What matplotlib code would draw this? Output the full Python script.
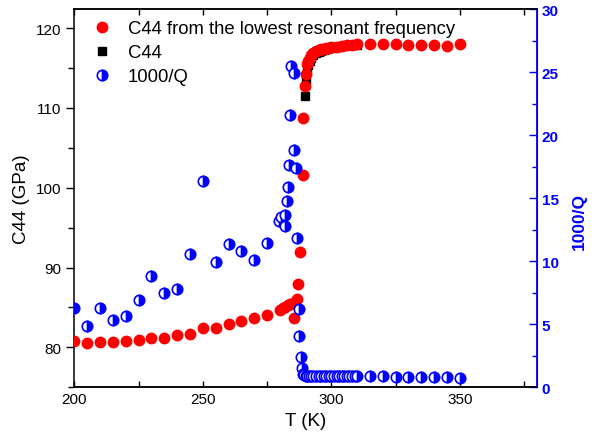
import matplotlib
matplotlib.use('Agg')
import matplotlib.pyplot as plt
from matplotlib.ticker import MultipleLocator

plt.rcParams['font.family'] = ['Liberation Sans', 'DejaVu Sans']

# C44 from the lowest resonant frequency (red)
red_T = [200, 205, 210, 215, 220, 225, 230, 235, 240, 245, 250, 255, 260, 265,
         270, 275, 280, 281, 282, 283, 284, 285, 285.6, 286.5, 287.2, 287.9,
         288.9, 289.1, 289.8, 290.2, 290.6, 291, 291.5, 292, 293, 294, 295,
         296, 297, 298, 299, 300, 302, 304, 306, 308, 310,
         315, 320, 325, 330, 335, 340, 345, 350]
red_C44 = [80.8, 80.5, 80.67, 80.7, 80.8, 80.96, 81.13, 81.2, 81.5, 81.67, 82.4,
           82.47, 82.9, 83.3, 83.7, 84.05, 84.7, 84.95, 85.1, 85.25, 85.4, 85.6,
           83.7, 86.1, 87.9, 91.9, 101.6, 108.8, 112.8, 114.3, 115.5, 115.9,
           116.3, 116.6, 116.9, 117.1, 117.25, 117.35, 117.45, 117.5, 117.55,
           117.6, 117.7, 117.8, 117.85, 117.95, 118.0,
           118.02, 118.02, 118.0, 117.95, 117.93, 117.9, 117.8, 118.0]

# C44 (black squares)
black_T = [289.8, 290.2, 290.6, 291, 291.5, 292, 293, 294, 295, 296, 297, 298,
           299, 300, 302, 304, 306, 308, 310]
black_C44 = [111.5, 113.5, 114.8, 115.4, 115.9, 116.2, 116.6, 116.9, 117.05,
             117.2, 117.3, 117.4, 117.5, 117.55, 117.65, 117.75, 117.85, 117.9,
             117.95]

# 1000/Q (blue, right axis)
blue_T = [200, 205, 210, 215, 220, 225, 230, 235, 240, 245, 250, 255, 260, 265,
          270, 275, 279.8, 280.5, 281.8, 282.0, 282.7, 283.3, 283.7, 284.0,
          284.4, 285.6, 285.6, 286.3, 286.5, 287.3, 287.6, 288.3, 288.4, 288.9,
          289.5, 290, 290.7, 291.4, 292, 293, 294, 295, 296, 297, 298, 299, 300,
          301, 302, 303, 304, 305, 306, 307, 308, 309, 310,
          315, 320, 325, 330, 335, 340, 345, 350]
blue_Q = [6.3, 4.84, 6.26, 5.34, 5.68, 6.92, 8.83, 7.45, 7.77, 10.57, 16.36,
          9.96, 11.34, 10.81, 10.09, 11.44, 13.2, 13.48, 12.8, 13.7, 14.75,
          15.9, 17.6, 21.6, 25.5, 24.9, 18.8, 17.4, 11.8, 6.2, 4.04, 2.38, 1.5,
          1.05, 0.95, 0.92, 0.9, 0.9, 0.88, 0.88, 0.88, 0.87, 0.87, 0.87, 0.87,
          0.86, 0.86, 0.86, 0.86, 0.86, 0.86, 0.86, 0.86, 0.86, 0.86, 0.86, 0.86,
          0.87, 0.87, 0.84, 0.84, 0.8, 0.8, 0.8, 0.74]

fig = plt.figure(figsize=(5.97, 4.35), dpi=100)
ax = fig.add_axes([0.1245, 0.1074, 0.775, 0.8696])

l_black, = ax.plot(black_T, black_C44, 's', color='black', ms=5.5, ls='none',
                   label='C44', zorder=2)
l_red, = ax.plot(red_T, red_C44, 'o', color='red', mec='red', ms=7.5, ls='none',
                 label='C44 from the lowest resonant frequency', zorder=3)

ax.set_xlim(200, 380)
ax.set_ylim(75, 122.4)
ax.xaxis.set_major_locator(MultipleLocator(50))
ax.xaxis.set_minor_locator(MultipleLocator(25))
ax.yaxis.set_major_locator(MultipleLocator(10))
ax.yaxis.set_minor_locator(MultipleLocator(5))
ax.tick_params(axis='x', which='both', direction='in', top=True, length=4,
               width=1, labelsize=11)
ax.tick_params(axis='y', which='major', direction='out', length=6, width=1,
               labelsize=11, right=False)
ax.tick_params(axis='y', which='minor', direction='out', length=4, width=1,
               right=False)
ax.set_xlabel('T (K)', fontsize=13.5)
ax.set_ylabel('C44 (GPa)', fontsize=13.5)
for s in ['left', 'bottom', 'top']:
    ax.spines[s].set_linewidth(1.1)

ax2 = ax.twinx()
l_blue, = ax2.plot(blue_T, blue_Q, 'o', ms=7.5, ls='none', fillstyle='right',
                   mfc='blue', mfcalt='white', mec='blue', mew=1.2,
                   label='1000/Q')
ax2.set_ylim(0, 30)
ax2.yaxis.set_major_locator(MultipleLocator(5))
ax2.yaxis.set_minor_locator(MultipleLocator(2.5))
ax2.tick_params(axis='y', which='major', direction='in', length=6, width=1,
                colors='blue', labelsize=11)
ax2.tick_params(axis='y', which='minor', direction='in', length=3.5, width=1,
                colors='blue')
for lab in ax2.get_yticklabels():
    lab.set_fontweight('bold')
ax2.set_ylabel('1000/Q', color='blue', fontweight='bold', fontsize=12.5)
ax2.yaxis.set_label_coords(1.075, 0.44)
ax2.spines['right'].set_color('blue')
ax2.spines['right'].set_linewidth(1.3)
ax2.spines['left'].set_visible(False)
ax2.spines['top'].set_linewidth(1.1)
ax2.spines['bottom'].set_linewidth(1.1)

ax2.legend(handles=[l_red, l_black, l_blue], loc='upper left', frameon=False,
           fontsize=13.3, handletextpad=0.5, labelspacing=0.38,
           borderaxespad=0.3, borderpad=0.3, handlelength=1.8)

fig.savefig('out.png', dpi=100)
